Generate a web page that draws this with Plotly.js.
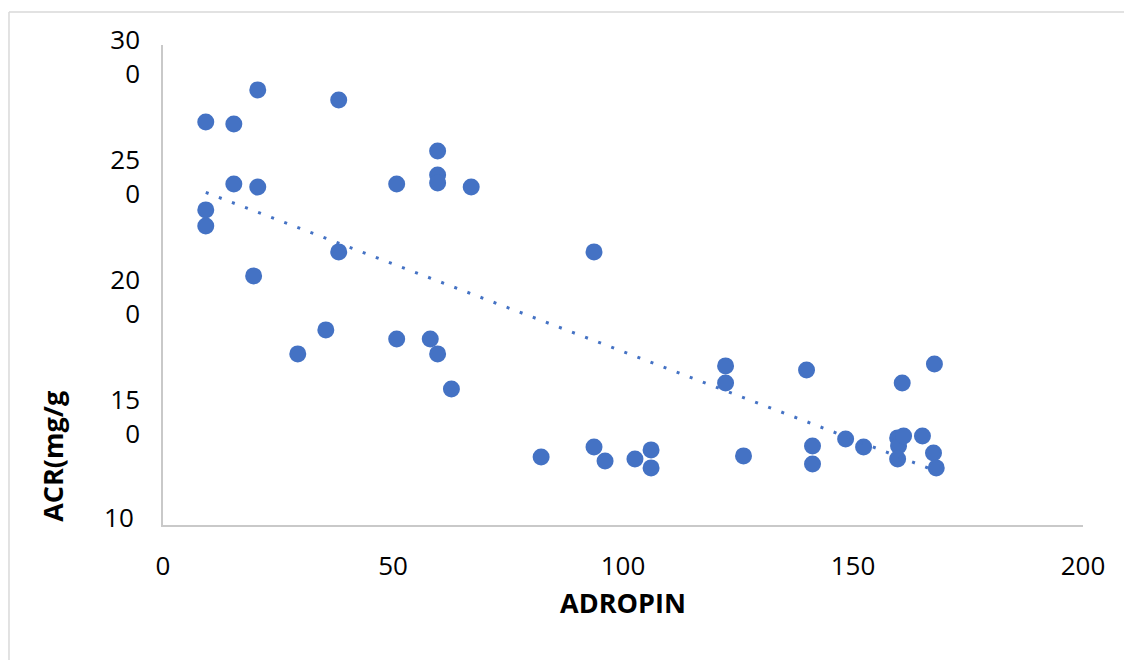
<!DOCTYPE html>
<html>
<head>
<meta charset="utf-8">
<script src="https://cdn.plot.ly/plotly-3.0.1.min.js"></script>
<style>
  html, body { margin: 0; padding: 0; background: #fff; }
  #chart { width: 1124px; height: 660px; }
</style>
</head>
<body>
<div id="chart"></div>
<script>
// ADROPIN (x) vs ACR (mg/g) (y)
const adropin = [9.3, 15.4, 20.6, 38.2, 9.3, 9.3, 15.4, 20.6, 19.7, 38.2,
  29.3, 35.4, 50.8, 50.8, 59.7, 59.7, 59.7, 67.0, 58.1, 59.7,
  62.7, 82.2, 93.7, 93.7, 96.1, 102.6, 106.1, 106.1, 122.3, 122.3,
  126.2, 139.9, 141.2, 141.2, 148.4, 152.3, 159.7, 159.9, 159.7, 161.0,
  160.7, 167.7, 165.1, 167.5, 168.1];
const acr = [267.9, 267.1, 281.3, 277.1, 231.3, 224.6, 242.1, 240.8, 203.8, 213.8,
  171.3, 181.3, 242.1, 177.5, 255.8, 245.8, 242.5, 240.8, 177.5, 171.3,
  156.7, 128.3, 213.8, 132.5, 126.7, 127.5, 131.3, 123.8, 166.3, 159.2,
  128.8, 164.6, 132.9, 125.4, 135.8, 132.5, 136.3, 132.9, 127.5, 137.1,
  159.2, 167.1, 137.1, 130.0, 123.8];

const xTickVals = [0, 50, 100, 150, 200];
const xTickText = ['0', '50', '100', '150', '200'];
// bottom tick label (single line) and wrapped upper labels
const yBottomVal = [100];
const yBottomText = ['10'];
const yTickVals = [150, 200, 250, 300];
const yTickText = ['15<br>0', '20<br>0', '25<br>0', '30<br>0'];

const xTitle = 'ADROPIN';
const yTitle = 'ACR(mg/g';

// Linear trendline (least squares) over the data's x range
const n = adropin.length;
const mx = adropin.reduce((a, b) => a + b, 0) / n;
const my = acr.reduce((a, b) => a + b, 0) / n;
let sxy = 0, sxx = 0;
for (let i = 0; i < n; i++) {
  sxy += (adropin[i] - mx) * (acr[i] - my);
  sxx += (adropin[i] - mx) * (adropin[i] - mx);
}
const slope = sxy / sxx;
const intercept = my - slope * mx;
const xMin = Math.min(...adropin), xMax = Math.max(...adropin);
const trendX = [xMin, xMax];
const trendY = trendX.map(v => intercept + slope * v);

const font = 'Open Sans, Noto Sans, sans-serif';

const data = [
  {
    x: adropin, y: acr, type: 'scatter', mode: 'markers',
    marker: { color: '#4472C4', size: 17, line: { width: 0 } },
    hoverinfo: 'x+y', showlegend: false
  },
  {
    x: trendX, y: trendY, type: 'scatter', mode: 'lines',
    line: { color: '#4472C4', width: 3, dash: '3px,11px' },
    hoverinfo: 'skip', showlegend: false
  },
  {
    // carrier for the label-only axis (invisible)
    x: [xMin], y: [acr[0]], yaxis: 'y2', type: 'scatter', mode: 'markers',
    marker: { opacity: 0, size: 1 }, hoverinfo: 'skip', showlegend: false
  }
];

const labelOffset = 5; // wrapped labels sit slightly below their ticks in the reference

const layout = {
  width: 1124, height: 660,
  margin: { l: 163, r: 41, t: 45, b: 135, pad: 0 },
  paper_bgcolor: '#ffffff', plot_bgcolor: 'rgba(0,0,0,0)',
  font: { family: font, color: '#000000', size: 26 },
  showlegend: false,
  xaxis: {
    range: [0, 200], tickvals: xTickVals, ticktext: xTickText,
    showgrid: false, zeroline: false, showline: true,
    linecolor: '#c9c9c9', linewidth: 2, ticks: '',
    ticklabelstandoff: 17,
    tickfont: { family: font, size: 26, color: '#000' },
    title: { text: xTitle, font: { family: font, size: 27, weight: 'bold', color: '#000' }, standoff: 12 }
  },
  yaxis: {
    range: [100, 300], tickvals: yBottomVal, ticktext: yBottomText,
    showgrid: false, zeroline: false, showline: true,
    linecolor: '#c9c9c9', linewidth: 2, ticks: '',
    ticklabelstandoff: 22, ticklabelshift: -7,
    tickfont: { family: font, size: 26, color: '#000' }
  },
  yaxis2: {
    overlaying: 'y', side: 'left', anchor: 'x',
    range: [100 + labelOffset, 300 + labelOffset], tickvals: yTickVals, ticktext: yTickText,
    showgrid: false, zeroline: false, showline: false, ticks: '',
    ticklabelstandoff: 22,
    tickfont: { family: font, size: 26, color: '#000' }
  },
  annotations: [
    {
      text: '<b>' + yTitle + '</b>', xref: 'paper', yref: 'paper',
      x: -0.1196, y: 0.144, xanchor: 'center', yanchor: 'middle',
      textangle: -90, showarrow: false,
      font: { family: font, size: 27, color: '#000' }
    }
  ],
  shapes: [
    {
      type: 'line', xref: 'paper', yref: 'paper',
      x0: -0.1674, x1: 1.1, y0: 1.06875, y1: 1.06875,
      line: { color: '#d9d9d9', width: 1.5 }, layer: 'below'
    },
    {
      type: 'line', xref: 'paper', yref: 'paper',
      x0: -0.1674, x1: -0.1674, y0: -0.5, y1: 1.06875,
      line: { color: '#d9d9d9', width: 1.5 }, layer: 'below'
    }
  ]
};

Plotly.newPlot('chart', data, layout, { displayModeBar: false, staticPlot: true });
</script>
</body>
</html>
